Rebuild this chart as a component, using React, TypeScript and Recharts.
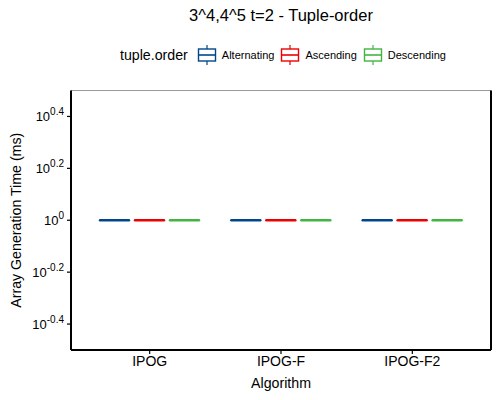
import React from 'react';
import { ComposedChart, Bar, XAxis, YAxis } from 'recharts';

// Benchmark: 3^4,4^5 t=2, array generation time (ms) per tuple order
const ALGORITHMS = ['IPOG', 'IPOG-F', 'IPOG-F2'];
const ORDERS = ['Alternating', 'Ascending', 'Descending'];
const COLORS = ['#00468B', '#ED0000', '#42B540'];

// box stats per algorithm: [q1, median, q3] in ms (every run took 1 ms)
const ALTERNATING_MS = [[1, 1, 1], [1, 1, 1], [1, 1, 1]];
const ASCENDING_MS = [[1, 1, 1], [1, 1, 1], [1, 1, 1]];
const DESCENDING_MS = [[1, 1, 1], [1, 1, 1], [1, 1, 1]];

const Y_TICKS = [-0.4, -0.2, 0, 0.2, 0.4];

const FONT = '"Liberation Sans", Arial, sans-serif';

const statsByOrder = [ALTERNATING_MS, ASCENDING_MS, DESCENDING_MS];

const data = ALGORITHMS.map((algorithm, i) => {
  const row: any = { algorithm };
  ORDERS.forEach((order, k) => {
    const [q1, med, q3] = statsByOrder[k][i].map((v) => Math.log10(v));
    row[order] = [q1, q3];
    row[order + '_med'] = med;
  });
  return row;
});

// draws a box from the bar rectangle; median placed between q1/q3 pixels
const makeBoxShape = (order: string, color: string) => (props: any) => {
  const { x, y, width, height, payload } = props;
  const [q1, q3] = payload[order];
  const med = payload[order + '_med'];
  const h = Math.abs(height);
  const top = Math.min(y, y + height);
  const medY = q3 === q1 ? top : top + (h * (q3 - med)) / (q3 - q1);
  return (
    <g>
      <rect x={x} y={top} width={width} height={h} fill="#fff" stroke={color} strokeWidth={1} />
      <line x1={x} x2={x + width} y1={medY} y2={medY} stroke={color} strokeWidth={2.4} strokeLinecap="round" />
    </g>
  );
};

const LogTick = (props: any) => {
  const { x, y, payload } = props;
  const exp = Number(payload.value).toString();
  return (
    <text x={x} y={y} dy={5} textAnchor="end" fontSize={13} fill="#000" fontFamily={FONT}>
      10
      <tspan dy={-6} fontSize={10}>{exp}</tspan>
    </text>
  );
};

const LegendIcon = ({ color }: { color: string }) => (
  <svg width={20} height={20} style={{ display: 'block' }}>
    <line x1={10} x2={10} y1={0} y2={4} stroke={color} strokeWidth={1.2} />
    <line x1={10} x2={10} y1={16} y2={20} stroke={color} strokeWidth={1.2} />
    <rect x={1.5} y={4} width={17} height={12} fill="#fff" stroke={color} strokeWidth={1.4} />
    <line x1={1.5} x2={18.5} y1={10} y2={10} stroke={color} strokeWidth={1.6} />
  </svg>
);

export default function App() {
  return (
    <div style={{ position: 'fixed', left: 0, top: 0, width: 500, height: 400, background: '#fff', fontFamily: FONT }}>
      <div style={{ position: 'absolute', top: 6, left: 71, width: 420, textAlign: 'center', fontSize: 16.5, color: '#000' }}>
        3^4,4^5 t=2 - Tuple-order
      </div>
      <div style={{ position: 'absolute', top: 45, left: 120, height: 20, display: 'flex', alignItems: 'center', color: '#000' }}>
        <span style={{ fontSize: 14.2, marginRight: 9 }}>tuple.order</span>
        {ORDERS.map((order, k) => (
          <React.Fragment key={order}>
            <LegendIcon color={COLORS[k]} />
            <span style={{ fontSize: 11, marginLeft: 5, marginRight: 6 }}>{order}</span>
          </React.Fragment>
        ))}
      </div>
      <ComposedChart
        width={500}
        height={400}
        data={data}
        margin={{ top: 89.5, right: 8, bottom: 0, left: 0 }}
        barSize={29}
        barGap={6}
      >
        <XAxis
          dataKey="algorithm"
          type="category"
          padding={{ left: 13, right: 13 }}
          height={50}
          tickSize={4}
          tickMargin={2}
          tick={{ fontSize: 14, fill: '#000', fontFamily: FONT }}
          tickLine={{ stroke: '#000', strokeWidth: 1.2 }}
          axisLine={{ stroke: '#000', strokeWidth: 2 }}
          label={{ value: 'Algorithm', position: 'insideBottom', offset: 12, fontSize: 14.2, fill: '#000', fontFamily: FONT }}
        />
        <XAxis
          xAxisId="top"
          orientation="top"
          dataKey="algorithm"
          height={1}
          tick={false}
          tickLine={false}
          axisLine={{ stroke: '#999', strokeWidth: 1 }}
        />
        <YAxis
          type="number"
          domain={[-0.5, 0.5]}
          ticks={Y_TICKS}
          allowDataOverflow
          width={71}
          tickSize={4}
          tickMargin={3}
          tick={<LogTick />}
          tickLine={{ stroke: '#000', strokeWidth: 1.2 }}
          axisLine={{ stroke: '#000', strokeWidth: 2 }}
          label={{ value: 'Array Generation Time (ms)', angle: -90, position: 'center', dx: -19.5, fontSize: 14.2, fill: '#000', fontFamily: FONT }}
        />
        <YAxis
          yAxisId="right"
          orientation="right"
          width={1}
          tick={false}
          tickLine={false}
          axisLine={{ stroke: '#000', strokeWidth: 2 }}
        />
        {ORDERS.map((order, k) => (
          <Bar
            key={order}
            dataKey={order}
            fill={COLORS[k]}
            shape={makeBoxShape(order, COLORS[k])}
            isAnimationActive={false}
          />
        ))}
      </ComposedChart>
    </div>
  );
}
